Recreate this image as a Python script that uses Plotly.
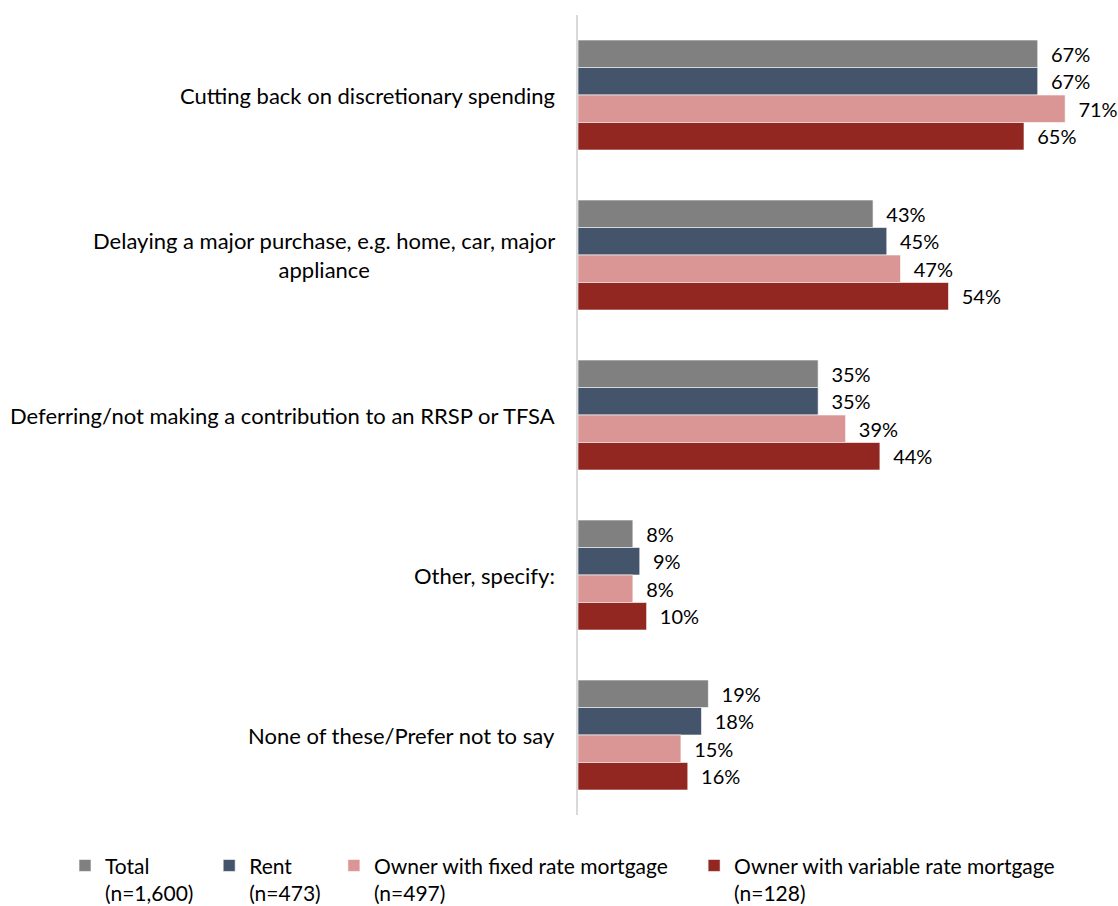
import plotly.graph_objects as go

categories = [
    "Cutting back on discretionary spending",
    "Delaying a major purchase, e.g. home, car, major<br>appliance",
    "Deferring/not making a contribution to an RRSP or TFSA",
    "Other, specify:",
    "None of these/Prefer not to say",
]
series_names = [
    "Total<br>(n=1,600)",
    "Rent<br>(n=473)",
    "Owner with fixed rate mortgage<br>(n=497)",
    "Owner with variable rate mortgage<br>(n=128)",
]
total = [67, 43, 35, 8, 19]
rent = [67, 45, 35, 9, 18]
fixed_rate = [71, 47, 39, 8, 15]
variable_rate = [65, 54, 44, 10, 16]

values = [total, rent, fixed_rate, variable_rate]
colors = ["#808080", "#44546A", "#DA9694", "#922620"]
legend_ids = ["legend", "legend2", "legend3", "legend4"]
legend_x = [-0.950, -0.683, -0.452, 0.215]

FONT = "Lato"

fig = go.Figure()
for name, vals, color, lid in zip(series_names, values, colors, legend_ids):
    fig.add_trace(go.Bar(
        y=categories,
        x=vals,
        name=name,
        orientation="h",
        marker=dict(color=color, line=dict(color="white", width=0.6)),
        text=vals,
        texttemplate="\u00a0\u00a0%{x}%",
        textposition="outside",
        textfont=dict(family=FONT, size=20, color="#000000"),
        cliponaxis=False,
        legend=lid,
    ))

# category labels, centred multi-line text right-aligned to the axis
for cat in categories:
    fig.add_annotation(
        x=0, xref="paper", y=cat, yref="y",
        text=cat, showarrow=False,
        xanchor="right", yanchor="middle", align="center",
        xshift=-21,
        font=dict(family=FONT, size=22, color="#000000"),
    )

legend_common = dict(
    orientation="h", yanchor="top", xanchor="left",
    font=dict(family=FONT, size=21, color="#000000"),
    valign="top", itemwidth=30, bgcolor="rgba(0,0,0,0)",
    yref="container", y=0.067,
)
layout_legends = {}
for lid, lx in zip(legend_ids, legend_x):
    layout_legends[lid] = dict(legend_common, x=lx)

fig.update_layout(
    width=1118, height=906,
    margin=dict(l=578, r=0, t=15, b=91),
    plot_bgcolor="white", paper_bgcolor="white",
    barmode="group", bargap=0.3125, bargroupgap=0,
    uniformtext=dict(mode=False),
    showlegend=True,
    **layout_legends,
)
fig.update_traces(constraintext="none")
fig.update_xaxes(range=[0, 78.7], visible=False, fixedrange=True)
fig.update_yaxes(
    autorange="reversed", showticklabels=False, showgrid=False,
    showline=True, linecolor="#D9D9D9", linewidth=2, ticks="",
    zeroline=False,
)

fig.write_html("out.html")
